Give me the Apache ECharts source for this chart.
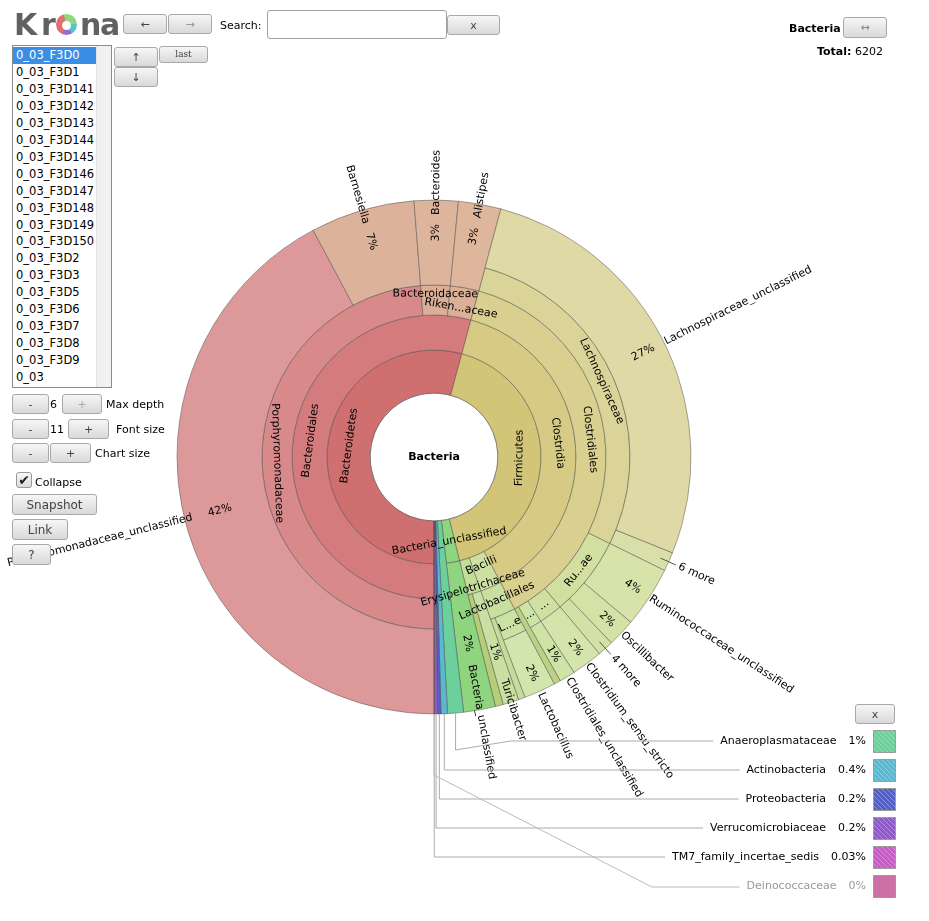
<!DOCTYPE html>
<html>
<head>
<meta charset="utf-8">
<title>Krona - Bacteria</title>
<script src="https://cdn.jsdelivr.net/npm/echarts@6.0.0/dist/echarts.min.js"></script>
<style>
*{box-sizing:border-box;}
html,body{margin:0;padding:0;width:929px;height:921px;overflow:hidden;background:#fff;font-family:'DejaVu Sans',sans-serif;font-size:11px;color:#000;}
#chart{position:absolute;left:0;top:0;width:929px;height:921px;}
.btn{position:absolute;z-index:5;border:1px solid #a8a8a8;border-radius:3px;background:linear-gradient(#f6f6f6,#d9d9d9);color:#444;font-size:11px;display:flex;align-items:center;justify-content:center;line-height:1;}
.txt{position:absolute;z-index:5;white-space:nowrap;line-height:1;}
.logo{position:absolute;z-index:5;font-size:30px;font-weight:bold;color:#616161;line-height:1;}
#list{position:absolute;z-index:5;left:12px;top:45px;width:100px;height:343px;border:1px solid #8a8a8a;background:#fff;overflow:hidden;}
#list .it{position:absolute;left:0;width:83px;height:17px;padding-left:3px;line-height:17px;font-size:11.5px;white-space:nowrap;}
#list .sel{background:#3a8ee6;color:#fff;}
#list .sb{position:absolute;right:0;top:0;width:15px;height:100%;background:#f1f1f1;border-left:1px solid #e2e2e2;}
</style>
</head>
<body>
<div id="chart"></div>

<div class="logo" style="left:14px;top:10px;">K</div>
<div class="logo" style="left:41px;top:10px;">r</div>
<div style="position:absolute;z-index:5;left:56px;top:14px;width:21px;height:21px;border-radius:50%;background:conic-gradient(#8fd67f 0deg 85deg,#5cc0cf 85deg 150deg,#9a6bd0 150deg 205deg,#e07070 205deg 345deg,#8fd67f 345deg 360deg);"></div>
<div style="position:absolute;z-index:6;left:62px;top:20.5px;width:9px;height:9px;border-radius:50%;background:#fff;"></div>
<div class="logo" style="left:80px;top:10px;">n</div>
<div class="logo" style="left:100px;top:10px;">a</div>

<div class="btn" style="left:123px;top:14px;width:44px;height:20px;">&#8592;</div>
<div class="btn" style="left:168px;top:14px;width:44px;height:20px;color:#999;">&#8594;</div>
<div class="txt" style="left:220px;top:20px;">Search:</div>
<div style="position:absolute;z-index:5;left:267px;top:10px;width:180px;height:29px;border:1px solid #a0a0a0;border-radius:3px;background:#fff;"></div>
<div class="btn" style="left:447px;top:15px;width:53px;height:20px;">x</div>

<div id="list"></div>
<div class="btn" style="left:114px;top:47px;width:44px;height:20px;">&#8593;</div>
<div class="btn" style="left:159px;top:46px;width:49px;height:17px;font-family:'DejaVu Serif',serif;font-size:9px;">last</div>
<div class="btn" style="left:114px;top:67px;width:44px;height:20px;">&#8595;</div>

<div class="btn" style="left:12px;top:394px;width:37px;height:20px;">-</div>
<div class="txt" style="left:50px;top:399px;">6</div>
<div class="btn" style="left:62px;top:394px;width:40px;height:20px;color:#aaa;">+</div>
<div class="txt" style="left:106px;top:399px;">Max depth</div>

<div class="btn" style="left:12px;top:419px;width:37px;height:20px;">-</div>
<div class="txt" style="left:50px;top:424px;">11</div>
<div class="btn" style="left:68px;top:419px;width:41px;height:20px;">+</div>
<div class="txt" style="left:116px;top:424px;">Font size</div>

<div class="btn" style="left:12px;top:443px;width:37px;height:20px;">-</div>
<div class="btn" style="left:50px;top:443px;width:41px;height:20px;">+</div>
<div class="txt" style="left:95px;top:448px;">Chart size</div>

<div style="position:absolute;z-index:5;left:16px;top:472px;width:16px;height:16px;border:1px solid #999;border-radius:3px;background:linear-gradient(#f8f8f8,#dcdcdc);font-size:14px;line-height:14px;text-align:center;color:#222;">&#10004;</div>
<div class="txt" style="left:35px;top:477px;">Collapse</div>
<div class="btn" style="left:12px;top:494px;width:85px;height:21px;font-size:12px;">Snapshot</div>
<div class="btn" style="left:12px;top:519px;width:56px;height:21px;font-size:12px;">Link</div>
<div class="btn" style="left:12px;top:544px;width:39px;height:21px;font-size:12px;">?</div>

<div class="txt" style="left:789px;top:23px;font-weight:bold;">Bacteria</div>
<div class="btn" style="left:843px;top:17px;width:44px;height:21px;color:#888;">&#8596;</div>
<div class="txt" style="left:817px;top:46px;"><b>Total:</b> 6202</div>

<div class="btn" style="left:855px;top:704px;width:40px;height:20px;">x</div>

<script>
// ---------------- DATA ----------------
const datasets = ['0_03_F3D0','0_03_F3D1','0_03_F3D141','0_03_F3D142','0_03_F3D143','0_03_F3D144','0_03_F3D145','0_03_F3D146','0_03_F3D147','0_03_F3D148','0_03_F3D149','0_03_F3D150','0_03_F3D2','0_03_F3D3','0_03_F3D5','0_03_F3D6','0_03_F3D7','0_03_F3D8','0_03_F3D9','0_03'];

// lineage of each leaf (clockwise order from 6 o'clock), and its read count
const leafPaths = [
  'Bacteroidetes/Bacteroidales/Porphyromonadaceae/Porphyromonadaceae_unclassified',
  'Bacteroidetes/Bacteroidales/Porphyromonadaceae/Barnesiella',
  'Bacteroidetes/Bacteroidales/Bacteroidaceae/Bacteroides',
  'Bacteroidetes/Bacteroidales/Rikenellaceae/Alistipes',
  'Firmicutes/Clostridia/Clostridiales/Lachnospiraceae/Lachnospiraceae_unclassified',
  'Firmicutes/Clostridia/Clostridiales/Lachnospiraceae/6 more',
  'Firmicutes/Clostridia/Clostridiales/Ruminococcaceae/Ruminococcaceae_unclassified',
  'Firmicutes/Clostridia/Clostridiales/Ruminococcaceae/Oscillibacter',
  'Firmicutes/Clostridia/Clostridiales/Ruminococcaceae/4 more',
  'Firmicutes/Clostridia/Clostridiales/Clostridiaceae/Clostridium_sensu_stricto',
  'Firmicutes/Clostridia/Clostridiales/Clostridiales_unclassified/Clostridiales_unclassified',
  'Firmicutes/Clostridia/Clostridiales/Peptostreptococcaceae',
  'Firmicutes/Bacilli/Lactobacillales/Lactobacillaceae/Lactobacillus',
  'Firmicutes/Bacilli/Lactobacillales/Lactobacillales_unclassified',
  'Firmicutes/Erysipelotrichaceae/Turicibacter',
  'Firmicutes/Erysipelotrichaceae/Erysipelotrichaceae_unclassified',
  'Bacteria_unclassified/Bacteria_unclassified',
  'Anaeroplasmataceae',
  'Actinobacteria',
  'Proteobacteria',
  'Verrucomicrobiaceae',
  'TM7_family_incertae_sedis',
  'Deinococcaceae'
];
const leafCounts = [2618, 406, 171, 166, 1668, 74, 238, 109, 62, 121, 62, 26, 124, 26, 62, 31, 124, 62, 25, 13, 12, 2, 0];

// taxa listed in the key (bottom right)
const keyNames = ['Anaeroplasmataceae','Actinobacteria','Proteobacteria','Verrucomicrobiaceae','TM7_family_incertae_sedis','Deinococcaceae'];

// ---------------- STYLE ----------------
const nodeColors = {
  'Bacteroidetes':'#cf6f6f','Bacteroidales':'#d47c7d','Porphyromonadaceae':'#d88a8b',
  'Porphyromonadaceae_unclassified':'#dd999a','Barnesiella':'#dcb29b',
  'Bacteroidaceae':'#dbae96','Bacteroides':'#ddb49c','Rikenellaceae':'#dbb096','Alistipes':'#deb69c',
  'Firmicutes':'#d3c577','Clostridia':'#d6ca84','Clostridiales':'#d9cf8f',
  'Lachnospiraceae':'#dbd499','Lachnospiraceae_unclassified':'#dfd9a6','6 more':'#d8dfa8',
  'Ruminococcaceae':'#d3df9f','Ruminococcaceae_unclassified':'#d7e3a8','Oscillibacter':'#d5e2a6','4 more':'#d3e1a6',
  'Clostridiaceae':'#cfe0a0','Clostridium_sensu_stricto':'#d4e5ac',
  'Clostridiales_unclassified':'#cee3a6','Peptostreptococcaceae':'#bdd184',
  'Bacilli':'#cde0a0','Lactobacillales':'#c9df9f','Lactobacillaceae':'#cbe2a5','Lactobacillus':'#d0e6ad',
  'Lactobacillales_unclassified':'#c6dc98',
  'Erysipelotrichaceae':'#c4dd98','Turicibacter':'#c8e0a2','Erysipelotrichaceae_unclassified':'#b7cd78',
  'Bacteria_unclassified':'#8fd47f',
  'Anaeroplasmataceae':'#6ccf9c','Actinobacteria':'#5cb8ce','Proteobacteria':'#5560c6',
  'Verrucomicrobiaceae':'#8e5bc8','TM7_family_incertae_sedis':'#c75cc6','Deinococcaceae':'#cc70a6'
};
const innerLabels = {
  'Bacteroidetes':'Bacteroidetes','Bacteroidales':'Bacteroidales','Porphyromonadaceae':'Porphyromonadaceae',
  'Bacteroidaceae':'Bacteroidaceae','Rikenellaceae':'Riken...aceae',
  'Firmicutes':'Firmicutes','Clostridia':'Clostridia','Clostridiales':'Clostridiales',
  'Lachnospiraceae':'Lachnospiraceae','Ruminococcaceae':'Ru...ae','Clostridiaceae':'...',
  'Clostridiales_unclassified':'...','Bacilli':'Bacilli','Lactobacillales':'Lactobacillales',
  'Lactobacillaceae':'L...e','Erysipelotrichaceae':'Erysipelotrichaceae','Bacteria_unclassified':'Bacteria_unclassified'
};
// radial nudges of crowded inner labels: blank lines after (+) or before (-) the text
const innerNudge = {'Bacteroidaceae':1, 'Rikenellaceae':-1, 'Erysipelotrichaceae':-2, 'Bacilli':1};
const hatched = ['6 more','4 more','Anaeroplasmataceae','Actinobacteria','Proteobacteria','Verrucomicrobiaceae','TM7_family_incertae_sedis'];
const noNameLabel = ['Peptostreptococcaceae','Lactobacillales_unclassified','Erysipelotrichaceae_unclassified'].concat(keyNames);
const nameDist = {'Porphyromonadaceae_unclassified':-8,'Barnesiella':-14,'Bacteroides':-15,'Alistipes':-14,
  'Turicibacter':-24,'Bacteria_unclassified':-46,'Clostridiales_unclassified':2,'Lactobacillus':2,'6 more':11,'4 more':11};
const pctDist = {'Turicibacter':44,'Bacteria_unclassified':59,'Clostridiales_unclassified':18};
const leader = ['6 more','4 more'];

const CX = 434, CY = 457, R = 257;
const RING = [0, 64, 107, 142, 172, 196, 257];
const BORDER = 'rgba(70,70,70,0.45)';
const FONT = 'DejaVu Sans';
const DECAL = {symbol:'rect', symbolSize:1, color:'rgba(255,255,255,0.28)', dashArrayX:[1,0], dashArrayY:[2,3], rotation:Math.PI/4};

const TOTAL = leafCounts.reduce((a,b)=>a+b,0);

function pct(v){
  const p = v / TOTAL * 100;
  if (p === 0) return '0%';
  if (p >= 1) return Math.round(p) + '%';
  return (+p.toPrecision(1)) + '%';
}

// build tree
const root = {name:'Bacteria', children:[]};
leafPaths.forEach((p,i)=>{
  let node = root;
  p.split('/').forEach(nm=>{
    let ch = node.children.find(c=>c.name===nm);
    if(!ch){ ch = {name:nm, children:[]}; node.children.push(ch); }
    node = ch;
  });
  node.value = leafCounts[i];
});
let cum = 0;
(function walk(n, depth){
  n.depth = depth; n.start = cum;
  if (n.children.length === 0) { n.leaf = true; cum += n.value; }
  else n.children.forEach(c=>walk(c, depth+1));
  n.end = cum;
})(root, 1);
function phi(n){ return 180 + (n.start + n.end) / 2 / TOTAL * 360; }
function tangRot(f){
  let r = (-f) % 360;
  if (r <= -180) r += 360; if (r > 180) r -= 360;
  if (r <= -90) r += 180; else if (r > 90) r -= 180;
  return r;
}
function nudged(t, k){
  if (!k) return t;
  const blanks = '\n'.repeat(Math.abs(k));
  return k > 0 ? t + blanks : blanks + t;
}
const CLEAR = {color:'rgba(0,0,0,0)', borderWidth:0};

function toA(n){
  const o = {name:n.name};
  if (n.leaf) { o.value = n.value; o.itemStyle = CLEAR; o.label = {show:false}; }
  else if (n.depth === 1) {
    o.itemStyle = {color:'#fff', borderColor:'#999', borderWidth:1};
    o.label = {show:false};
  } else {
    o.itemStyle = {color:nodeColors[n.name], borderColor:BORDER, borderWidth:1};
    const t = innerLabels[n.name];
    o.label = t ? {show:true, formatter:nudged(t, innerNudge[n.name]), lineHeight:12, rotate:tangRot(phi(n))} : {show:false};
  }
  if (!n.leaf) o.children = n.children.map(toA);
  return o;
}
function toB(n){
  const o = {name:n.name};
  if (n.leaf) {
    o.value = n.value;
    o.itemStyle = {color:nodeColors[n.name], borderColor:BORDER, borderWidth:1};
    if (hatched.includes(n.name)) o.itemStyle.decal = DECAL;
    const show = !noNameLabel.includes(n.name) && !leader.includes(n.name);
    const d = pctDist[n.name] != null ? pctDist[n.name] : (n.depth >= 6 ? 11 : 24);
    o.label = show ? {show:true, formatter:pct(n.value), rotate:'radial', align:'right', distance:d} : {show:false};
  } else { o.itemStyle = CLEAR; o.label = {show:false}; o.children = n.children.map(toB); }
  return o;
}
function toC(n){
  const o = {name:n.name, itemStyle:CLEAR};
  if (n.leaf) {
    o.value = n.value;
    const show = !noNameLabel.includes(n.name);
    const d = nameDist[n.name] != null ? nameDist[n.name] : 1;
    o.label = show ? {show:true, formatter:n.name, position:'outside', rotate:'radial', distance:d} : {show:false};
  } else { o.label = {show:false}; o.children = n.children.map(toC); }
  return o;
}

function levelsFor(extend){
  const lv = [{}];
  for (let d = 1; d <= 6; d++) lv.push({r0:RING[d-1], r:(extend && d > 1) ? R : RING[d]});
  return lv;
}
const baseSeries = {
  type:'sunburst', center:[CX, CY], startAngle:-90, clockwise:true,
  sort: function(a, b){ return 0; }, nodeClick:false, emphasis:{disabled:true},
  label:{color:'#000', fontSize:11, fontFamily:FONT, padding:0, textBorderWidth:0, minAngle:0},
  itemStyle:{borderWidth:1, borderColor:BORDER}
};

// ---------------- KEY (bottom right) ----------------
const KEY_Y0 = 741, KEY_DY = 29, KEY_PCT_RIGHT = 866, SW_X = 873, SW = 22;
const ctx = document.createElement('canvas').getContext('2d');
ctx.font = '11px ' + FONT;
function leafByName(nm){ let f=null; (function w(n){ if(n.leaf && n.name===nm) f=n; if(!n.leaf) n.children.forEach(w); })(root); return f; }
function polar(f, r){ const a = f * Math.PI / 180; return [CX + r * Math.sin(a), CY - r * Math.cos(a)]; }

const graphics = [];
keyNames.forEach((nm, i)=>{
  const n = leafByName(nm);
  const y = KEY_Y0 + i * KEY_DY;
  const zero = n.value === 0;
  const pTxt = pct(n.value);
  const nameRight = KEY_PCT_RIGHT - ctx.measureText(pTxt).width - 12;
  const endX = nameRight - ctx.measureText(nm).width - 7;
  const s = polar(phi(n), R);
  let pts;
  if (i === 0) pts = [s, [s[0], y + 9], [s[0] + 55, y], [endX, y]];
  else if (zero) pts = [s, [s[0], 775], [652, y + 1], [endX, y + 1]];
  else pts = [s, [s[0], y], [endX, y]];
  graphics.push({type:'polyline', silent:true, z:10, shape:{points:pts}, style:{stroke: zero ? '#bbb' : '#aaa', lineWidth:1, fill:null}});
  graphics.push({type:'text', silent:true, z:10, style:{x:nameRight, y:y, text:nm, align:'right', verticalAlign:'middle', font:'11px ' + FONT, fill: zero ? '#999' : '#000'}});
  graphics.push({type:'text', silent:true, z:10, style:{x:KEY_PCT_RIGHT, y:y, text:pTxt, align:'right', verticalAlign:'middle', font:'11px ' + FONT, fill: zero ? '#999' : '#000'}});
  graphics.push({type:'rect', silent:true, z:10, shape:{x:SW_X + 0.5, y:y - SW/2 + 0.5, width:SW, height:SW}, style:{fill:nodeColors[nm], stroke:'#999', lineWidth:1}});
  if (hatched.includes(nm)) {
    for (let k = -SW; k < SW; k += 5) {
      const x1 = SW_X + 0.5 + Math.max(0, k), y1 = y - SW/2 + 0.5 + Math.max(0, -k);
      const len = SW - Math.abs(k);
      graphics.push({type:'line', silent:true, z:11, shape:{x1:x1, y1:y1, x2:x1 + len, y2:y1 + len}, style:{stroke:'rgba(255,255,255,0.3)', lineWidth:1}});
    }
  }
});
// short leader lines for grouped slices
leader.forEach(nm=>{
  const n = leafByName(nm);
  const a = polar(phi(n), R - 9), b = polar(phi(n), R + 8);
  graphics.push({type:'line', silent:true, z:10, shape:{x1:a[0], y1:a[1], x2:b[0], y2:b[1]}, style:{stroke:'#555', lineWidth:1}});
});
// centre label (root node)
graphics.push({type:'text', silent:true, z:12, style:{x:CX, y:CY, text:root.name, align:'center', verticalAlign:'middle', font:'bold 11px ' + FONT, fill:'#000'}});

// ---------------- RENDER ----------------
const listEl = document.getElementById('list');
datasets.forEach((d,i)=>{
  const e = document.createElement('div');
  e.className = 'it' + (i === 0 ? ' sel' : '');
  e.style.top = (1 + i * 16.95) + 'px';
  e.textContent = d;
  listEl.appendChild(e);
});
const sb = document.createElement('div'); sb.className = 'sb'; listEl.appendChild(sb);

const chart = echarts.init(document.getElementById('chart'), null, {renderer:'canvas'});
chart.setOption({
  animation:false,
  series:[
    Object.assign({}, baseSeries, {id:'structure', levels:levelsFor(false), data:[toA(root)]}),
    Object.assign({}, baseSeries, {id:'leaves', levels:levelsFor(true), data:[toB(root)]}),
    Object.assign({}, baseSeries, {id:'names', levels:levelsFor(true), data:[toC(root)]})
  ],
  graphic: graphics
});
</script>
</body>
</html>
